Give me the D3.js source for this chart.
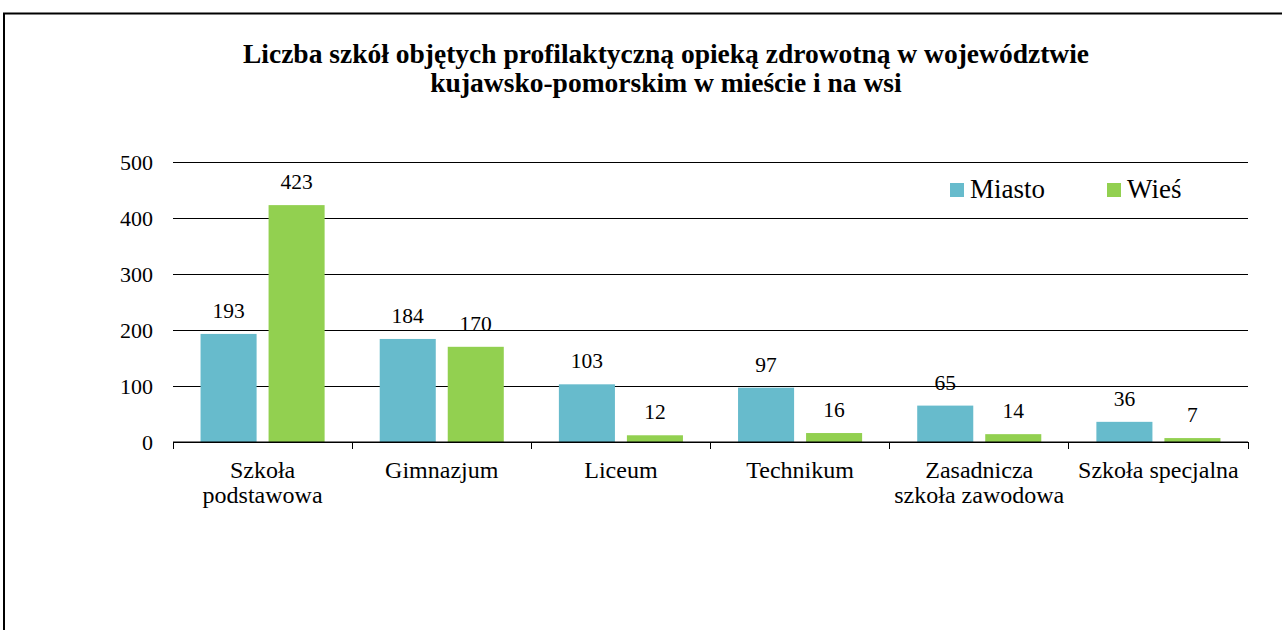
<!DOCTYPE html>
<html><head><meta charset="utf-8">
<script src="https://cdn.jsdelivr.net/npm/d3@7"></script>
<style>body{margin:0;background:#fff}svg{display:block}</style>
</head><body>
<svg id="c" width="1282" height="630"></svg>
<script>
const categories = [["Szkoła","podstawowa"],["Gimnazjum"],["Liceum"],["Technikum"],["Zasadnicza","szkoła zawodowa"],["Szkoła specjalna"]];
const seriesNames = ["Miasto","Wieś"];
const miasto = [193,184,103,97,65,36];
const wies = [423,170,12,16,14,7];
const yTicks = [0,100,200,300,400,500];
const titleLines = ["Liczba szkół objętych profilaktyczną opieką zdrowotną w województwie","kujawsko-pomorskim w mieście i na wsi"];
const colors = ["#67BBCC","#92D050"];

const FONT = "'Liberation Serif'";
const svg = d3.select("#c").style("font-family", FONT);
svg.append("rect").attr("x",4).attr("y",13.5).attr("width",1400).attr("height",700).attr("fill","none").attr("stroke","#000").attr("stroke-width",2);

const L=173,R=1248,T=162,B=442;
const idx = categories.map((d,i)=>i);
const x = d3.scaleBand().domain(idx).range([L,R]).paddingInner(0).paddingOuter(0);
const x1 = d3.scaleBand().domain([0,1]).range([0,x.bandwidth()]).paddingInner(0.176).paddingOuter(0.405);
const y = d3.scaleLinear().domain([0,500]).range([B,T]);

// title
svg.append("g").selectAll("text").data(titleLines).join("text")
  .attr("x",666).attr("y",(d,i)=>63+i*29).attr("text-anchor","middle")
  .style("font-weight","bold").style("font-size","27.5px").text(d=>d);

// grid
const yAxis = d3.axisLeft(y).tickValues(yTicks).tickSize(-(R-L)).tickPadding(20);
const gy = svg.append("g").attr("transform",`translate(${L},0)`).call(yAxis);
gy.attr("font-family",null).attr("font-size",null);
gy.select(".domain").remove();
gy.selectAll(".tick line").attr("stroke","#000").attr("stroke-width",1).attr("shape-rendering","crispEdges");
gy.selectAll(".tick text").style("font-size","22px").attr("dy","0.35em").attr("fill","#000");

// bars
const data = idx.map(i=>[miasto[i],wies[i]]);
const g = svg.append("g");
const groups = g.selectAll("g").data(data).join("g").attr("transform",(d,i)=>`translate(${x(i)},0)`);
groups.selectAll("rect").data(d=>d.map((v,s)=>({v,s}))).join("rect")
  .attr("x",d=>x1(d.s)).attr("width",x1.bandwidth())
  .attr("y",d=>y(d.v)).attr("height",d=>B-y(d.v)).attr("fill",d=>colors[d.s]);
groups.selectAll("text").data(d=>d.map((v,s)=>({v,s}))).join("text")
  .attr("x",d=>x1(d.s)+x1.bandwidth()/2).attr("y",d=>y(d.v)-16)
  .attr("text-anchor","middle").style("font-size","21.5px").text(d=>d.v);

// x axis
const xAxis = d3.axisBottom(x).tickSize(0).tickFormat("");
const gx = svg.append("g").attr("transform",`translate(0,${B})`).call(xAxis);
gx.select(".domain").attr("stroke","#000").attr("d",`M${L},0H${R}`);
gx.selectAll(".tick").remove();
const bounds = idx.map(i=>x(i)).concat([R]);
gx.selectAll("line.tk").data(bounds).join("line").attr("class","tk")
  .attr("x1",d=>d).attr("x2",d=>d).attr("y1",0).attr("y2",7).attr("stroke","#000").attr("shape-rendering","crispEdges");
const labLines = [];
categories.forEach((lines,i)=>lines.forEach((t,j)=>labLines.push({i,j,t})));
svg.append("g").selectAll("text").data(labLines).join("text")
  .attr("x",d=>x(d.i)+x.bandwidth()/2).attr("y",d=>478+d.j*25)
  .attr("text-anchor","middle").style("font-size","24px").text(d=>d.t);

// legend
const leg = svg.append("g").selectAll("g").data(seriesNames).join("g")
  .attr("transform",(d,i)=>`translate(${[950,1107][i]},183)`);
leg.append("rect").attr("width",14).attr("height",14).attr("fill",(d,i)=>colors[i]);
leg.append("text").attr("x",20).attr("y",15).style("font-size","27px").text(d=>d);

svg.selectAll("text").style("font-family",FONT).style("fill","#000");
</script>
</body></html>
